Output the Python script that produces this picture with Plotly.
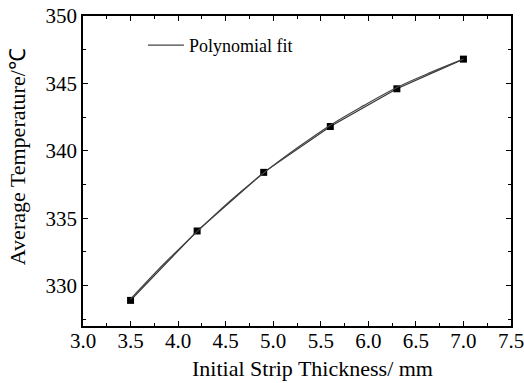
import plotly.graph_objects as go

thickness = [3.5, 4.2, 4.9, 5.6, 6.3, 7.0]
avg_temp = [328.9, 334.05, 338.4, 341.8, 344.6, 346.8]

fit_x = [3.5, 3.85, 4.2, 4.55, 4.9, 5.25, 5.6, 5.95, 6.3, 6.65, 7.0]
fit_y = [329.0, 331.6, 334.0, 336.3, 338.35, 340.2, 341.9, 343.35, 344.7, 345.8, 346.8]

x_title = "Initial Strip Thickness/ mm"
y_title = "Average Temperature/℃"

font_family = "Liberation Serif, Times New Roman, serif"

fig = go.Figure()
fig.add_trace(go.Scatter(
    x=thickness, y=avg_temp, mode="lines+markers",
    line=dict(color="#333333", width=1.2),
    marker=dict(symbol="square", size=7, color="black"),
    showlegend=False,
))
fig.add_trace(go.Scatter(
    x=fit_x, y=fit_y, mode="lines", name="Polynomial fit",
    line=dict(color="#444444", width=1.2, shape="spline"),
))

axis_common = dict(
    showline=True, linecolor="black", linewidth=1.5, mirror="allticks",
    ticks="inside", ticklen=5, tickwidth=1.2, tickcolor="black",
    showgrid=False, zeroline=False, automargin=False,
    ticklabeloverflow="allow",
    tickfont=dict(family=font_family, size=21, color="black"),
)

fig.update_xaxes(
    range=[3.0, 7.5], dtick=0.5, tick0=3.0, tickformat=".1f",
    ticklabelstandoff=-5,
    minor=dict(ticks="inside", ticklen=3, tickwidth=1, tickcolor="black", dtick=0.25),
    **axis_common,
)
fig.update_yaxes(
    range=[327, 350], dtick=5, tick0=330,
    minor=dict(ticks="inside", ticklen=3, tickwidth=1, tickcolor="black", dtick=2.5),
    **axis_common,
)

title_font = dict(family=font_family, size=22, color="black")
fig.add_annotation(text=x_title, xref="paper", yref="paper", x=0.537, y=-0.138,
                   xanchor="center", yanchor="middle", showarrow=False, font=title_font)
fig.add_annotation(text=y_title, xref="paper", yref="paper", x=-0.154, y=0.545,
                   xanchor="center", yanchor="middle", textangle=-90, showarrow=False, font=title_font)

fig.update_layout(
    width=524, height=383,
    margin=dict(l=83, r=13, t=16, b=57),
    plot_bgcolor="white", paper_bgcolor="white",
    legend=dict(x=0.14, y=0.905, xanchor="left", yanchor="middle",
                bgcolor="rgba(0,0,0,0)", font=dict(family=font_family, size=18, color="black"),
                itemwidth=36),
)

fig.write_html("out.html")
